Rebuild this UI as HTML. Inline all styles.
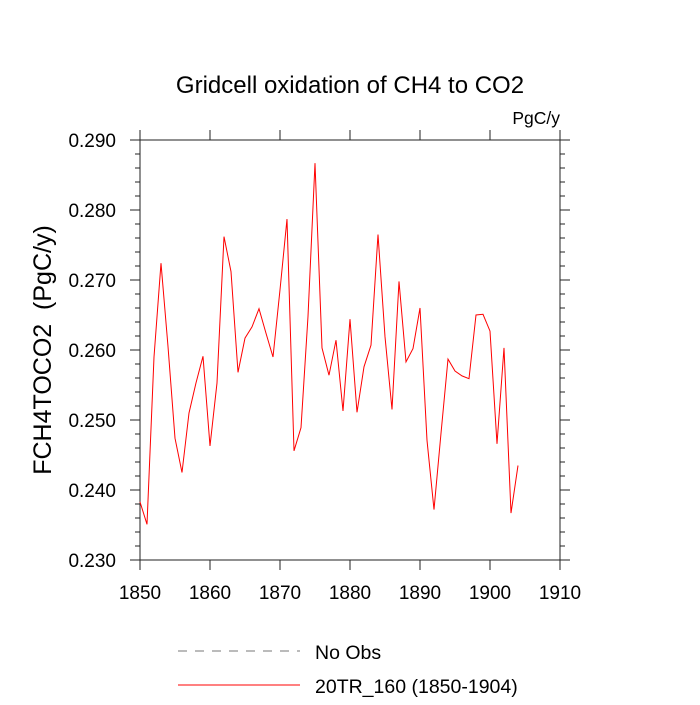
<!DOCTYPE html>
<html><head><meta charset="utf-8"><style>
body{margin:0;background:#fff;}
svg text{font-family:"Liberation Sans",sans-serif;fill:#000;}
</style></head><body>
<svg id="chart" width="700" height="700" viewBox="0 0 700 700" xmlns="http://www.w3.org/2000/svg">
<rect width="700" height="700" fill="#fff"/>
<text x="350" y="93" font-size="24" text-anchor="middle">Gridcell oxidation of CH4 to CO2</text>
<text x="560" y="124" font-size="17.5" text-anchor="end">PgC/y</text>
<text transform="translate(51,350) rotate(-90)" font-size="25" text-anchor="middle">FCH4TOCO2 &#160;(PgC/y)</text>
<g id="axes"></g>
<g id="series"></g>
<g>
<line x1="178" y1="651" x2="300" y2="651" stroke="#777" stroke-width="1" stroke-dasharray="9,8"/>
<text x="315" y="659" font-size="19.5">No Obs</text>
<line x1="178" y1="685" x2="300" y2="685" stroke="#f00" stroke-width="1"/>
<text x="315" y="693" font-size="19.5">20TR_160 (1850-1904)</text>
</g>
</svg>
<script>
const startYear = 1850;
const values = [0.2383,0.2351,0.2590,0.2724,0.2605,0.2474,0.2425,0.2510,0.2553,0.2591,
0.2463,0.2553,0.2762,0.2712,0.2568,0.2617,0.2633,0.2659,0.2624,0.2590,
0.2686,0.2787,0.2456,0.2489,0.2648,0.2867,0.2603,0.2564,0.2614,0.2513,
0.2644,0.2511,0.2576,0.2607,0.2765,0.2619,0.2515,0.2698,0.2583,0.2602,
0.2660,0.2471,0.2372,0.2481,0.2587,0.2570,0.2563,0.2559,0.2650,0.2651,
0.2627,0.2466,0.2603,0.2367,0.2435];
const xTicks = [1850,1860,1870,1880,1890,1900,1910];
const yTicks = [0.230,0.240,0.250,0.260,0.270,0.280,0.290];
const xMin=1850,xMax=1910,yMin=0.230,yMax=0.290;
const L=140,R=560,T=140,B=560;
const sx=v=>L+(v-xMin)/(xMax-xMin)*(R-L);
const sy=v=>B-(v-yMin)/(yMax-yMin)*(B-T);
const NS="http://www.w3.org/2000/svg";
const axes=document.getElementById('axes');
function mk(tag,attrs,parent){const e=document.createElementNS(NS,tag);for(const k in attrs)e.setAttribute(k,attrs[k]);parent.appendChild(e);return e;}
const frame=mk('rect',{x:L,y:T,width:R-L,height:B-T,fill:'none',stroke:'#222','stroke-width':1},axes);


xTicks.forEach(v=>{const x=sx(v);
 const t1=mk('line',{x1:x,y1:B,x2:x,y2:B+10,stroke:'#222'},axes);
 
 
 const t2=mk('line',{x1:x,y1:T,x2:x,y2:T-10,stroke:'#222'},axes);
 
 
});
for(let i=0;i<=30;i++){const v=yMin+i*0.002;const y=sy(v);const major=(i%5===0);const len=major?10:5;
 const t1=mk('line',{x1:L,y1:y,x2:L-len,y2:y,stroke:'#222'},axes);
 
 
 const t2=mk('line',{x1:R,y1:y,x2:R+len,y2:y,stroke:'#222'},axes);
 
 
}
xTicks.forEach(v=>{const t=mk('text',{x:sx(v),y:B+39,'font-size':19,'text-anchor':'middle'},axes);t.textContent=v;
 
 });
yTicks.forEach(v=>{const t=mk('text',{x:L-24,y:sy(v)+7,'font-size':19,'text-anchor':'end'},axes);t.textContent=v.toFixed(3);
 
 });
const pts=values.map((v,i)=>sx(startYear+i).toFixed(2)+','+sy(v).toFixed(2)).join(' ');
const line=mk('polyline',{points:pts,fill:'none',stroke:'#f00','stroke-width':1},document.getElementById('series'));


</script>
</body></html>
